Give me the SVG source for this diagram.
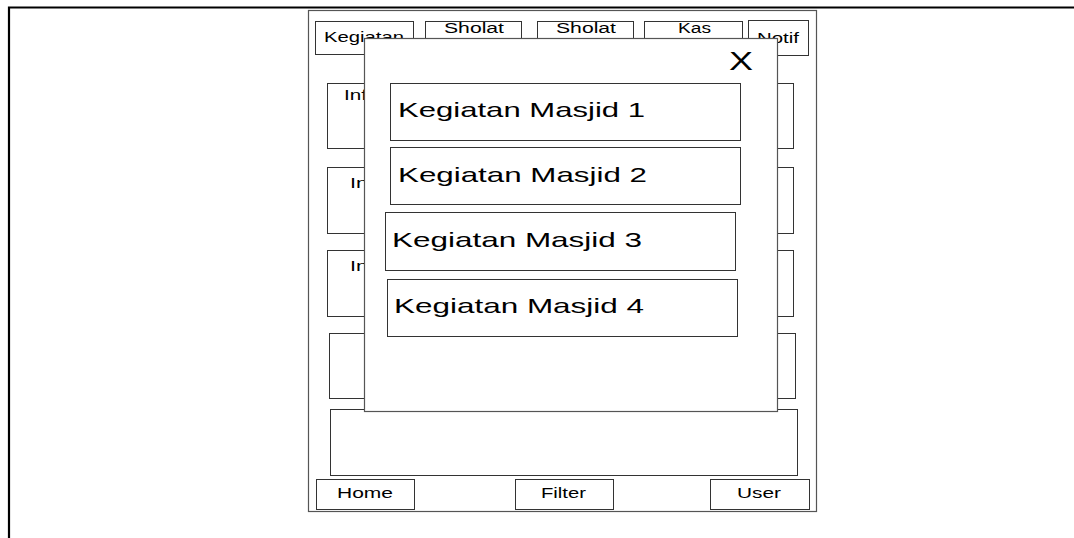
<svg xmlns="http://www.w3.org/2000/svg" width="1074" height="538" viewBox="0 0 1074 538">
<style>
.box{fill:#fff;stroke:#333;stroke-width:1}
.gbox{fill:#fff;stroke:#555;stroke-width:1.2}
.t{font-family:"Liberation Sans",Arial,sans-serif;font-size:14px;fill:#000}
.tl{font-family:"Liberation Sans",Arial,sans-serif;font-size:21px;fill:#000}
.frame{stroke:#000;stroke-width:2.2;fill:none}
</style>
<g id="frame">
<polyline class="frame" points="9,538 9,7.5 1074,7.5"/>
</g>
<g id="phone">
<rect class="gbox" x="308.5" y="10.5" width="508" height="501"/>
</g>
<g id="tabs">
<g id="tab-kegiatan"><rect class="box" x="315.5" y="21.5" width="98" height="33"/><text class="t" x="324" y="42" textLength="80" lengthAdjust="spacingAndGlyphs">Kegiatan</text></g>
<g id="tab-sholat1"><rect class="box" x="425.5" y="21.5" width="96" height="33"/><text class="t" x="444" y="33" textLength="60" lengthAdjust="spacingAndGlyphs">Sholat</text></g>
<g id="tab-sholat2"><rect class="box" x="537.5" y="21.5" width="96" height="33"/><text class="t" x="556" y="33" textLength="60" lengthAdjust="spacingAndGlyphs">Sholat</text></g>
<g id="tab-kas"><rect class="box" x="644.5" y="21.5" width="98" height="33"/><text class="t" x="678" y="33" textLength="33" lengthAdjust="spacingAndGlyphs">Kas</text></g>
<g id="tab-notif"><rect class="box" x="748.5" y="20.5" width="60" height="35"/><text class="t" x="757" y="43" textLength="42" lengthAdjust="spacingAndGlyphs">Notif</text></g>
</g>
<g id="info">
<g id="info1"><rect class="box" x="327.5" y="83.5" width="466" height="65"/><text class="t" x="344" y="100" textLength="23" lengthAdjust="spacingAndGlyphs">Inf</text></g>
<g id="info2"><rect class="box" x="327.5" y="167.5" width="466" height="66"/><text class="t" x="350" y="188" textLength="18" lengthAdjust="spacingAndGlyphs">In</text></g>
<g id="info3"><rect class="box" x="327.5" y="250.5" width="466" height="66"/><text class="t" x="350" y="271" textLength="18" lengthAdjust="spacingAndGlyphs">In</text></g>
<g id="info4"><rect class="box" x="329.5" y="333.5" width="466" height="65"/></g>
<g id="info5"><rect class="box" x="330.5" y="409.5" width="467" height="66"/></g>
</g>
<g id="nav">
<g id="nav-home"><rect class="box" x="316.5" y="479.5" width="98" height="30"/><text class="t" x="337" y="498" textLength="56" lengthAdjust="spacingAndGlyphs">Home</text></g>
<g id="nav-filter"><rect class="box" x="515.5" y="479.5" width="98" height="30"/><text class="t" x="541" y="498" textLength="45" lengthAdjust="spacingAndGlyphs">Filter</text></g>
<g id="nav-user"><rect class="box" x="710.5" y="479.5" width="99" height="30"/><text class="t" x="737" y="498" textLength="44" lengthAdjust="spacingAndGlyphs">User</text></g>
</g>
<g id="popup">
<rect class="gbox" x="364.5" y="38.5" width="413" height="373"/>
<text id="close" class="t" x="729" y="70" style="font-size:25px" textLength="24" lengthAdjust="spacingAndGlyphs">X</text>
<g id="item1"><rect class="box" x="390.5" y="83.5" width="350" height="57"/><text class="tl" x="398" y="117" textLength="247" lengthAdjust="spacingAndGlyphs">Kegiatan Masjid 1</text></g>
<g id="item2"><rect class="box" x="390.5" y="147.5" width="350" height="57"/><text class="tl" x="398" y="182" textLength="249" lengthAdjust="spacingAndGlyphs">Kegiatan Masjid 2</text></g>
<g id="item3"><rect class="box" x="385.5" y="212.5" width="350" height="58"/><text class="tl" x="392" y="247" textLength="250" lengthAdjust="spacingAndGlyphs">Kegiatan Masjid 3</text></g>
<g id="item4"><rect class="box" x="387.5" y="279.5" width="350" height="57"/><text class="tl" x="394" y="313" textLength="250" lengthAdjust="spacingAndGlyphs">Kegiatan Masjid 4</text></g>
</g>
<g id="connectors"/>
</svg>
